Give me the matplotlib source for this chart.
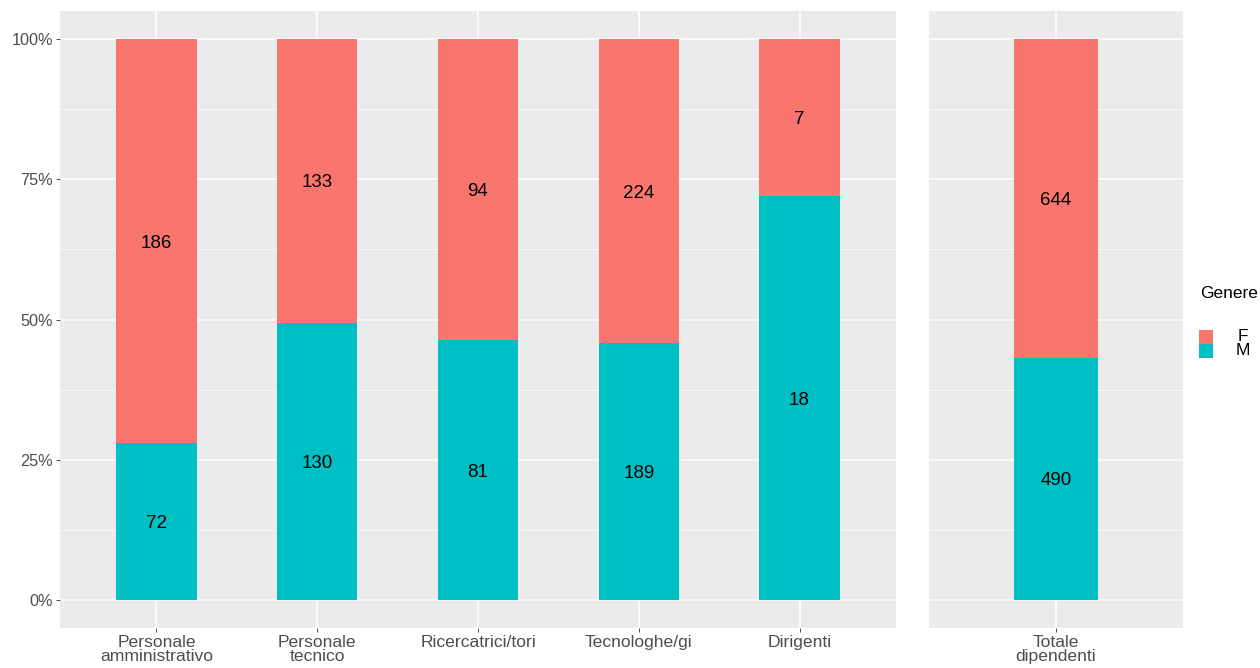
import matplotlib
matplotlib.use("Agg")
import matplotlib.pyplot as plt
import matplotlib.patches as mpatches
import numpy as np

plt.rcParams['font.family'] = ['Liberation Sans', 'DejaVu Sans']

categories = ["Personale\namministrativo", "Personale\ntecnico", "Ricercatrici/tori",
              "Tecnologhe/gi", "Dirigenti"]
f_values = [186, 133, 94, 224, 7]
m_values = [72, 130, 81, 189, 18]
total_category = ["Totale\ndipendenti"]
total_f = [644]
total_m = [490]
yticks = [0, 0.25, 0.5, 0.75, 1.0]
ytick_labels = ["0%", "25%", "50%", "75%", "100%"]

COL_F = "#F8766D"
COL_M = "#00BFC4"
BG = "#EBEBEB"

W, H = 1260, 668
fig = plt.figure(figsize=(W / 100, H / 100), dpi=100)

def ax_rect(x0, x1, y0, y1):
    return [x0 / W, 1 - y1 / H, (x1 - x0) / W, (y1 - y0) / H]

ax1 = fig.add_axes(ax_rect(60, 896, 11, 628))
ax2 = fig.add_axes(ax_rect(929, 1183, 11, 628))

def draw(ax, cats, fv, mv, show_y, bar_w):
    fv = np.array(fv, dtype=float)
    mv = np.array(mv, dtype=float)
    tot = fv + mv
    mf = mv / tot
    ff = fv / tot
    x = np.arange(1, len(cats) + 1)
    ax.set_facecolor(BG)
    ax.bar(x, mf, width=bar_w, color=COL_M, zorder=3)
    ax.bar(x, ff, width=bar_w, bottom=mf, color=COL_F, zorder=3)
    for xi, m, f, mvv, fvv in zip(x, mf, ff, mv, fv):
        ax.text(xi, m / 2, f"{int(mvv)}", ha="center", va="center_baseline",
                fontsize=13.5, color="black", zorder=4)
        ax.text(xi, m + f / 2, f"{int(fvv)}", ha="center", va="center_baseline",
                fontsize=13.5, color="black", zorder=4)
    ax.set_xlim(0.4, len(cats) + 0.6)
    ax.set_ylim(-0.05, 1.05)
    ax.set_xticks(x)
    ax.set_xticklabels(cats, fontsize=12.6, color="#4D4D4D", linespacing=0.92)
    ax.set_yticks(yticks)
    ax.set_yticks([0.125, 0.375, 0.625, 0.875], minor=True)
    ax.grid(True, which="major", color="white", linewidth=1.1, zorder=0)
    ax.grid(True, which="minor", axis="y", color="white", linewidth=0.5, zorder=0)
    ax.set_axisbelow(True)
    for s in ax.spines.values():
        s.set_visible(False)
    ax.tick_params(axis="both", which="major", length=3, width=0.6, color="#333333", pad=2)
    ax.tick_params(axis="y", which="minor", length=0)
    if show_y:
        ax.set_yticklabels(ytick_labels, fontsize=11.7, color="#4D4D4D")
    else:
        ax.set_yticklabels([])
        ax.tick_params(axis="y", which="both", length=0)

draw(ax1, categories, f_values, m_values, True, 0.5)
draw(ax2, total_category, total_f, total_m, False, 0.4)

# Legend
fig.text(1200 / W, 1 - 293 / H, "Genere", fontsize=12.5, color="black", va="center", ha="left")
for label, col, yc in [("F", COL_F, 337), ("M", COL_M, 351)]:
    rect = mpatches.Rectangle((1199 / W, 1 - (yc + 7) / H), 14 / W, 14 / H,
                              transform=fig.transFigure, facecolor=col, edgecolor="none")
    fig.patches.append(rect)
    fig.text(1243 / W, 1 - yc / H, label, fontsize=12.5, color="black", va="center", ha="center")

fig.savefig("out.png", dpi=100)
